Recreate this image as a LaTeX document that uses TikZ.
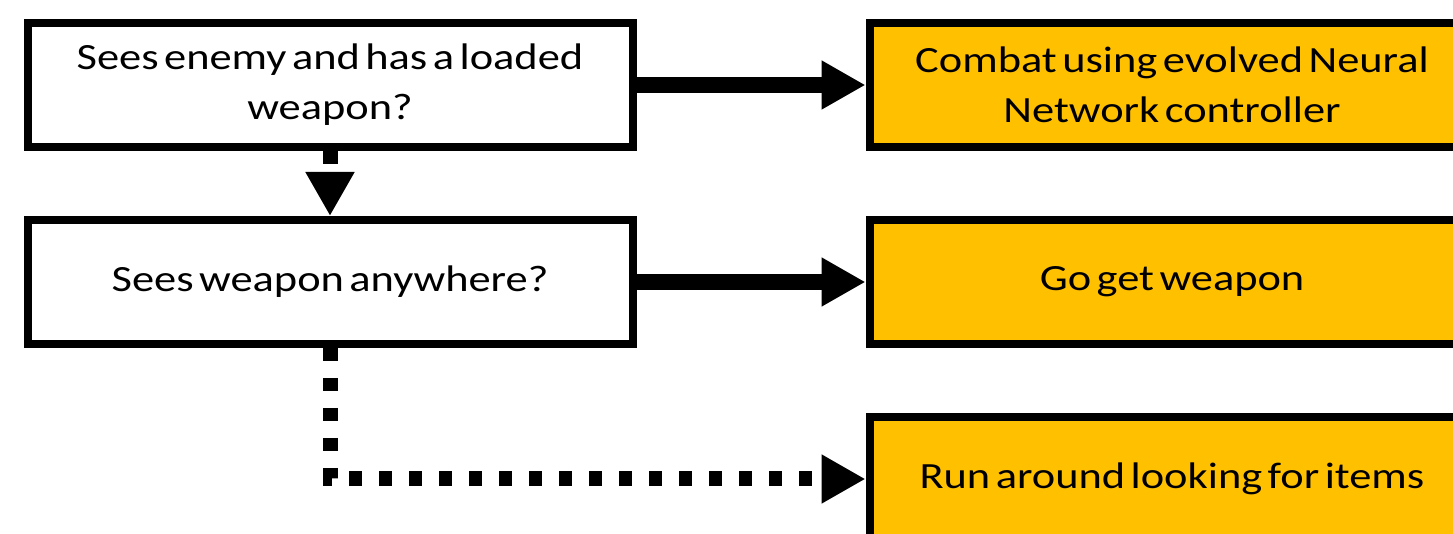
\documentclass[tikz,border=0pt]{standalone}
\usepackage{fontspec}
\setmainfont{Carlito}[FakeStretch=1.2,WordSpace=0.55]
\usepackage{xcolor}
\usetikzlibrary{arrows.meta,positioning}
\definecolor{gold}{HTML}{FFC000}
\tikzset{qbox/.style={rectangle,draw,line width=4pt,fill=white,minimum width=302.5pt,minimum height=62pt,align=center,font=\fontsize{18.5}{25}\selectfont},
    abox/.style={qbox,fill=gold},
    yesarrow/.style={line width=8pt,-{Triangle[width=23pt,length=22pt]}},
    noarrow/.style={line width=7.5pt,dash pattern=on 6.5pt off 8.5pt,-{Triangle[width=23pt,length=22pt]}}}

\begin{document}
\begin{tikzpicture}[x=0.5pt,y=-0.5pt]
    \useasboundingbox (0,0) rectangle (1453,534);
    \node[qbox] (q1) at (330,85) {Sees enemy and has a loaded\\weapon?};
    \node[qbox] (q2) at (330,282) {Sees weapon anywhere?};
    \node[abox] (a1) at (1172,85) {Combat using evolved Neural\\Network controller};
    \node[abox] (a2) at (1172,282) {Go get weapon};
    \node[abox] (a3) at (1172,479) {Run around looking for items};

    \draw [yesarrow] (q1) -- (a1);
    \draw [yesarrow] (q2) -- (a2);
    \draw [noarrow] (q1) -- (q2);
    \draw [noarrow] (q2) |- (a3);
\end{tikzpicture}
\end{document}
